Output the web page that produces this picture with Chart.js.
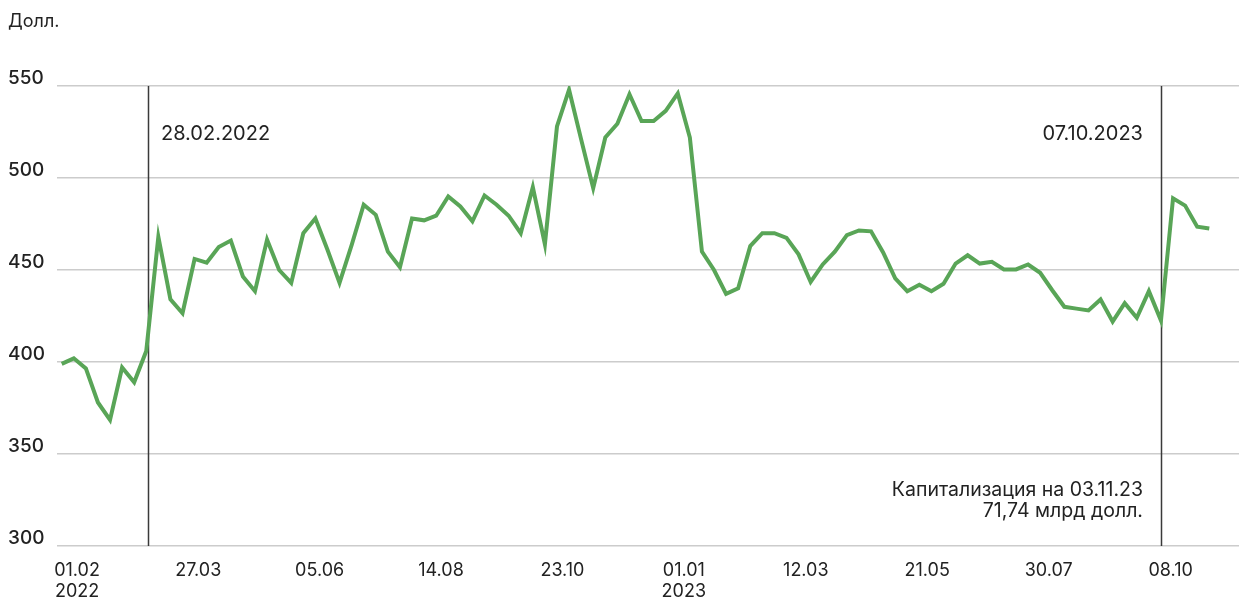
<!DOCTYPE html>
<html lang="ru">
<head>
<meta charset="utf-8">
<title>Капитализация</title>
<script src="https://cdn.jsdelivr.net/npm/chart.js@4.4.1/dist/chart.umd.min.js"></script>
<style>
  html, body { margin:0; padding:0; background:#fff; }
  #wrap { position:relative; width:1239px; height:601px; }
</style>
</head>
<body>
<div id="wrap"><canvas id="capChart"></canvas></div>
<script>
/* ========= Данные (недельные точки, долл.) ========= */
const prices = [
  399, 402, 396.5, 378, 368.5, 397, 389, 406, 468, 434,
  426.5, 456, 454, 462.5, 466, 446.5, 438.5, 466.5, 450, 443,
  470, 478, 461, 443, 463.5, 485.5, 480, 460, 451.5, 478,
  477, 479.5, 490, 484.5, 476.5, 490.5, 485.5, 479.5, 470, 495,
  464, 528, 548, 521, 494.5, 522, 529.5, 545.5, 531, 531,
  536.5, 546, 522, 460, 450, 437, 440, 463, 470, 470,
  467.5, 458.5, 443.5, 453, 460, 469, 471.5, 471, 459.5, 445.5,
  438.5, 442, 438.5, 442.5, 453.5, 458, 453.5, 454.5, 450.3, 450.3,
  453, 448.5, 439, 430, 429, 428, 434, 422, 432, 424,
  438.5, 422.5, 489, 485, 473.5, 472.5
];

// подписи оси X (позиция в неделях от первой точки)
const tickWeeks  = [1.27, 11.3, 21.35, 31.4, 41.45, 51.5, 61.6, 71.65, 81.7, 91.8];
const tickLabels = [['01.02','2022'], '27.03', '05.06', '14.08', '23.10',
                    ['01.01','2023'], '12.03', '21.05', '30.07', '08.10'];

const yTicks = [300, 350, 400, 450, 500, 550];

// вертикальные отметки
const markerWeeks  = [7.14, 91.0];
const markerLabels = ['28.02.2022', '07.10.2023'];

const unitLabel = 'Долл.';
const noteLines = ['Капитализация на 03.11.23', '71,74 млрд долл.'];

/* ========= Стиль ========= */
const FONT = 'Inter, "Noto Sans", sans-serif';
const GREEN = '#59a557';
const INK = '#222';

/* ========= Плагин: линии-отметки и подписи ========= */
const annotations = {
  id: 'annotations',
  beforeDatasetsDraw(chart){
    const { ctx, chartArea:a, scales:{ x } } = chart;
    ctx.save();
    ctx.strokeStyle = '#3a3a3a';
    ctx.lineWidth = 1.5;
    markerWeeks.forEach(w => {
      const px = Math.round(x.getPixelForValue(w)) + 0.5;
      ctx.beginPath();
      ctx.moveTo(px, a.top);
      ctx.lineTo(px, a.bottom);
      ctx.stroke();
    });
    ctx.restore();
  },
  afterDraw(chart){
    const { ctx, scales:{ x } } = chart;
    ctx.save();
    ctx.fillStyle = INK;
    ctx.textBaseline = 'middle';

    ctx.font = `400 18px ${FONT}`;
    ctx.textAlign = 'left';
    ctx.fillText(unitLabel, 8, 22);

    // подписи дат у линий
    ctx.font = `400 20px ${FONT}`;
    const p0 = x.getPixelForValue(markerWeeks[0]);
    ctx.textAlign = 'left';
    ctx.fillText(markerLabels[0], p0 + 13, 134);
    const p1 = x.getPixelForValue(markerWeeks[1]);
    ctx.textAlign = 'right';
    ctx.fillText(markerLabels[1], p1 - 18, 134);

    // капитализация
    ctx.font = `400 19.5px ${FONT}`;
    ctx.textAlign = 'right';
    ctx.fillText(noteLines[0], p1 - 18, 490);
    ctx.fillText(noteLines[1], p1 - 18, 511);
    ctx.restore();
  }
};

/* ========= График ========= */
const ctx = document.getElementById('capChart').getContext('2d');
new Chart(ctx, {
  type: 'line',
  data: {
    datasets: [{
      data: prices.map((v, i) => ({ x: i, y: v })),
      borderColor: GREEN,
      borderWidth: 4,
      borderJoinStyle: 'miter',
      pointRadius: 0,
      tension: 0,
      fill: false
    }]
  },
  options: {
    responsive: true,
    maintainAspectRatio: false,
    animation: false,
    layout: { padding: { top: 86, left: 8, right: 0, bottom: 0 } },
    plugins: { legend: { display:false }, tooltip: { enabled:false } },
    scales: {
      x: {
        type: 'linear',
        min: -0.39,
        max: 97.46,
        grid: { display:false },
        border: { display:false },
        afterBuildTicks: s => { s.ticks = tickWeeks.map(v => ({ value: v })); },
        afterFit: s => { s.height = 55; },
        ticks: {
          autoSkip: false,
          maxRotation: 0,
          padding: 6,
          color: INK,
          font: { family: FONT, size: 18, weight: '400', lineHeight: 1.18 },
          callback: (v, i) => tickLabels[i]
        }
      },
      y: {
        min: 300,
        max: 550,
        afterBuildTicks: s => { s.ticks = yTicks.map(v => ({ value: v })); },
        afterFit: s => { s.width = 49; },
        grid: { color:'#cccccc', lineWidth:1.5, drawTicks:false },
        border: { display:false },
        ticks: {
          crossAlign: 'far',
          labelOffset: -8,
          padding: 0,
          color: INK,
          font: { family: FONT, size: 19, weight: '500' }
        }
      }
    }
  },
  plugins: [annotations]
});
</script>
</body>
</html>
